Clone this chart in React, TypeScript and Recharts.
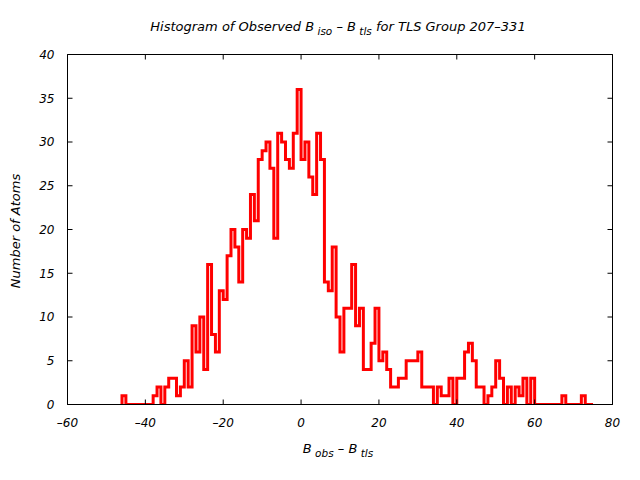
import React from 'react';
import { LineChart, Line, XAxis, YAxis, ReferenceLine } from 'recharts';

// Histogram bins of width 1, first bin starts at -46
const binStart = -46;
const counts = [
  1, 0, 0, 0, 0, 0, 0, 0,
  1, 2, 0, 2, 3, 3, 1, 2, 5, 2,
  9, 6, 10, 4, 16, 8, 6, 13, 12, 17,
  20, 18, 14, 20, 19, 24, 21, 28, 29, 30,
  27, 19, 31, 30, 28, 27, 31, 36, 28, 30,
  26, 24, 31, 28, 14, 13, 18, 10, 6, 11,
  11, 16, 9, 11, 4, 4, 7, 11, 5, 6,
  4, 2, 2, 3, 3, 5, 5, 5, 6, 2,
  2, 2, 0, 2, 1, 1, 3, 0, 3, 3,
  6, 7, 5, 2, 2, 0, 1, 2, 5, 3,
  0, 2, 0, 2, 1, 3, 0, 3, 0, 0,
  0, 0, 0, 0, 0, 1, 0, 0, 0, 0,
  1, 0, 0,
];
const xTicks = [-60, -40, -20, 0, 20, 40, 60, 80];
const yTicks = [0, 5, 10, 15, 20, 25, 30, 35, 40];

const data = [
  { x: binStart, y: 0 },
  ...counts.map((c, i) => ({ x: binStart + i, y: c })),
  { x: binStart + counts.length, y: 0 },
];

const FONT = "'DejaVu Sans', sans-serif";
const tickStyle = { fontSize: 12, fontStyle: 'italic', fontFamily: FONT, fill: '#000' };
const fmt = (v: number) => (v < 0 ? '\u2013' + Math.abs(v) : String(v));
const black = { stroke: '#000', strokeWidth: 1 };
const emptyTick = () => <g />;

export default function App() {
  return (
    <div style={{ position: 'absolute', left: 0, top: 0, width: 640, height: 480, background: '#fff' }}>
      <LineChart
        width={640}
        height={480}
        data={data}
        margin={{ top: 54.5, right: 27.5, bottom: 45.5, left: 7.5 }}
      >
        {/* labelled axes */}
        <XAxis xAxisId="x" dataKey="x" type="number" domain={[-60, 80]} ticks={xTicks}
          orientation="bottom" height={30} tickLine={false} tickSize={0} tickMargin={14}
          axisLine={black} tick={tickStyle} tickFormatter={fmt} interval={0}
          allowDataOverflow />
        <YAxis yAxisId="y" type="number" domain={[0, 40]} ticks={yTicks} width={60}
          tickLine={false} tickSize={0} tickMargin={13} axisLine={black}
          tick={tickStyle} interval={0} allowDataOverflow />
        {/* mirrored axes: inward ticks and the rest of the frame */}
        <XAxis xAxisId="xb" dataKey="x" type="number" domain={[-60, 80]} ticks={xTicks}
          orientation="bottom" mirror height={1} tick={emptyTick} tickSize={5}
          axisLine={false} tickLine={black} interval={0} allowDataOverflow />
        <XAxis xAxisId="xt" dataKey="x" type="number" domain={[-60, 80]} ticks={xTicks}
          orientation="top" mirror height={1} tick={emptyTick} tickSize={5}
          axisLine={black} tickLine={black} interval={0} allowDataOverflow />
        <YAxis yAxisId="yl" type="number" domain={[0, 40]} ticks={yTicks}
          orientation="left" mirror width={1} tick={emptyTick} tickSize={5}
          axisLine={false} tickLine={black} interval={0} allowDataOverflow />
        <YAxis yAxisId="yr" type="number" domain={[0, 40]} ticks={yTicks}
          orientation="right" mirror width={1} tick={emptyTick} tickSize={5}
          axisLine={black} tickLine={black} interval={0} allowDataOverflow />
        <Line xAxisId="xt" yAxisId="yr" type="stepAfter" dataKey="y" stroke="none"
          strokeWidth={0} dot={false} activeDot={false} legendType="none"
          isAnimationActive={false} />
        <Line xAxisId="xb" yAxisId="yl" type="stepAfter" dataKey="y" stroke="none"
          strokeWidth={0} dot={false} activeDot={false} legendType="none"
          isAnimationActive={false} />
        <Line xAxisId="x" yAxisId="y" type="stepAfter" dataKey="y" stroke="#ff0000"
          strokeWidth={3} dot={false} isAnimationActive={false} />
        <ReferenceLine xAxisId="x" yAxisId="y" y={0} stroke="#000" strokeWidth={1}
          zIndex={2000} />
      </LineChart>
      <svg width={640} height={480}
        style={{ position: 'absolute', left: 0, top: 0, pointerEvents: 'none' }}
        fontFamily={FONT} fontStyle="italic" fill="#000">
        <text x={338} y={30.5} textAnchor="middle" fontSize={13}>
          Histogram of Observed B
          <tspan fontSize={10.5} dy={4}>{' iso'}</tspan>
          <tspan dy={-4}>{' \u2013 B'}</tspan>
          <tspan fontSize={10.5} dy={4}>{' tls'}</tspan>
          <tspan dy={-4}>{' for TLS Group 207\u2013331'}</tspan>
        </text>
        <text x={338} y={453} textAnchor="middle" fontSize={13}>
          B
          <tspan fontSize={10.5} dy={4}>{' obs'}</tspan>
          <tspan dy={-4}>{' \u2013 B'}</tspan>
          <tspan fontSize={10.5} dy={4}>{' tls'}</tspan>
        </text>
        <text x={19.5} y={231} textAnchor="middle" fontSize={13} transform="rotate(-90 19.5 231)">
          Number of Atoms
        </text>
      </svg>
    </div>
  );
}
